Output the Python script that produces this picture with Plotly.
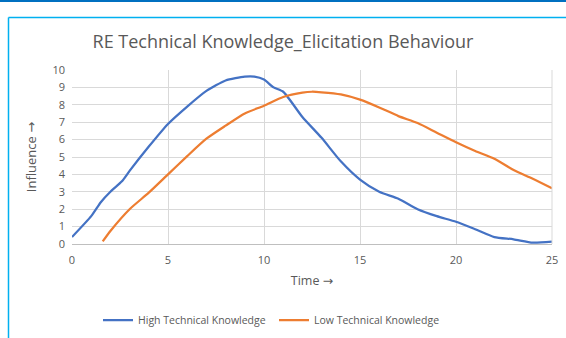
import plotly.graph_objects as go

# Data
high_x = [0, 1, 1.5, 2, 2.6, 3, 4, 5, 6, 7, 8, 9, 9.5, 10, 10.5, 11, 12, 13, 14, 15,
          16, 17, 18, 19, 20, 21, 22, 23, 24, 25]
high_y = [0.4, 1.6, 2.4, 3.0, 3.6, 4.2, 5.6, 6.9, 7.9, 8.8, 9.4, 9.62, 9.62, 9.45, 9.0, 8.75,
          7.3, 6.1, 4.75, 3.7, 3.0, 2.6, 2.0, 1.6, 1.28, 0.85, 0.4, 0.27, 0.08, 0.14]

low_x = [1.6, 2, 3, 4, 5, 6, 7, 8, 9, 10, 11, 12, 12.5, 13, 14, 15, 16, 17, 18, 19,
         20, 21, 22, 23, 24, 25]
low_y = [0.15, 0.75, 2.0, 2.95, 4.0, 5.05, 6.05, 6.8, 7.5, 7.95, 8.45, 8.7, 8.75, 8.72, 8.6, 8.3,
         7.85, 7.35, 6.95, 6.4, 5.85, 5.35, 4.9, 4.25, 3.75, 3.2]

x_ticks = [0, 5, 10, 15, 20, 25]
y_ticks = list(range(0, 11))

FONT = "Open Sans, Liberation Sans, sans-serif"
GREY = "#595959"
ARROW = '<span style="font-family:DejaVu Sans">→</span>'

fig = go.Figure()
fig.add_trace(go.Scatter(
    x=high_x, y=high_y, mode="lines", name="High Technical Knowledge",
    line=dict(color="#4472C4", width=2.25, shape="spline", smoothing=0.6),
))
fig.add_trace(go.Scatter(
    x=low_x, y=low_y, mode="lines", name="Low Technical Knowledge",
    line=dict(color="#ED7D31", width=2.25, shape="spline", smoothing=0.6),
))

# plot area: x 72..552, y 70..244 px
L, R, T, B = 72, 552, 70, 244
W, H = R - L, B - T

def px(x):
    return (x - L) / W

def py(y):
    return (B - y) / H

fig.update_layout(
    width=566, height=338,
    margin=dict(l=L, r=566 - R, t=T, b=338 - B, autoexpand=False),
    plot_bgcolor="white", paper_bgcolor="white",
    font=dict(family=FONT, color=GREY, size=11),
    title=dict(text="RE Technical Knowledge_Elicitation Behaviour",
               x=0.5, xanchor="center", y=1 - 42 / 338, yanchor="middle",
               font=dict(size=18, color=GREY)),
    xaxis=dict(range=[0, 25], tickvals=x_ticks, showgrid=True, gridcolor="#D9D9D9",
               zeroline=False, showline=True, linecolor="#BFBFBF", mirror=False,
               ticks="", ticklabelstandoff=6, automargin=False,
               title=dict(text="Time " + ARROW, font=dict(size=12.5, color=GREY), standoff=10)),
    yaxis=dict(range=[0, 10], tickvals=y_ticks, showgrid=True, gridcolor="#D9D9D9",
               zeroline=False, showline=False, ticks="", ticklabelstandoff=6, automargin=False,
               title=dict(text="Influence " + ARROW, font=dict(size=13, color=GREY), standoff=12)),
    legend=dict(orientation="h", x=px(98), xanchor="left", y=py(320), yanchor="middle",
                font=dict(size=10.5, color=GREY), entrywidth=131, entrywidthmode="pixels"),
    shapes=[
        dict(type="line", xref="paper", yref="paper", x0=px(0), x1=px(566), y0=py(1), y1=py(1),
             line=dict(color="#0070C0", width=2)),
        dict(type="line", xref="paper", yref="paper", x0=px(8.5), x1=px(566), y0=py(17.5), y1=py(17.5),
             line=dict(color="#00B0F0", width=1.5)),
        dict(type="line", xref="paper", yref="paper", x0=px(8.5), x1=px(8.5), y0=py(17.5), y1=py(338),
             line=dict(color="#00B0F0", width=1.5)),
        dict(type="line", xref="paper", yref="paper", x0=1, x1=1, y0=0, y1=1,
             line=dict(color="#D9D9D9", width=1)),
    ],
)

fig.write_html("out.html", config={"displayModeBar": False},
               post_script="document.body.style.margin='0';")
